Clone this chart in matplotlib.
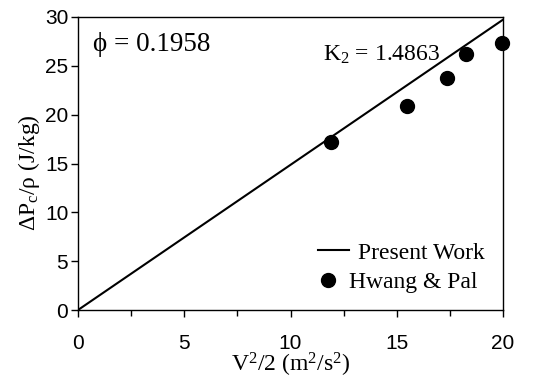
import numpy as np
import matplotlib.pyplot as plt
from matplotlib.ticker import MultipleLocator

# Hwang & Pal experimental points
hp_x = [11.9, 15.5, 17.35, 18.25, 19.95]
hp_y = [17.25, 20.9, 23.8, 26.2, 27.3]

# Present work: dP/rho = K2 * V^2/2
k2 = 1.4863
phi_val = 0.1958
line_x = np.array([0, 20])

serif = ['Liberation Serif', 'DejaVu Serif']

plt.rcParams['mathtext.fontset'] = 'custom'
plt.rcParams['mathtext.rm'] = 'Liberation Serif'
plt.rcParams['mathtext.it'] = 'Liberation Serif:italic'
plt.rcParams['mathtext.default'] = 'rm'

fig = plt.figure(figsize=(5.43, 3.81), dpi=100)
ax = fig.add_axes([78 / 543, 1 - 310 / 381, 425 / 543, 293 / 381])

line, = ax.plot(line_x, k2 * line_x, color='black', lw=1.5, label='Present Work')
pts, = ax.plot(hp_x, hp_y, 'o', color='black', ms=10, label='Hwang & Pal',
               clip_on=False)

ax.set_xlim(0, 20)
ax.set_ylim(0, 30)
ax.xaxis.set_major_locator(MultipleLocator(5))
ax.xaxis.set_minor_locator(MultipleLocator(2.5))
ax.yaxis.set_major_locator(MultipleLocator(5))
ax.tick_params(axis='both', which='both', direction='out', width=1,
               top=False, right=False)
ax.tick_params(axis='both', which='major', length=5, labelsize=15,
               labelfontfamily='Liberation Sans')
ax.tick_params(axis='x', which='minor', length=4)
ax.tick_params(axis='x', pad=12)
ax.tick_params(axis='y', pad=2)
for sp in ax.spines.values():
    sp.set_linewidth(1)

ax.set_xlabel('V$^2$/2 (m$^2$/s$^2$)', family=serif, fontsize=17, labelpad=-1)
ax.set_ylabel('\u0394P$_c$/\u03c1 (J/kg)', family=serif, fontsize=17)
ax.yaxis.set_label_coords(-0.085, 0.47)

ax.text(0.035, 0.905, '\u03d5 = %.4f' % phi_val, transform=ax.transAxes,
        family=serif, fontsize=19.5, va='center', ha='left')
ax.text(0.577, 0.87, 'K$_2$ = %.4f' % k2, transform=ax.transAxes,
        family=serif, fontsize=17, va='center', ha='left')

# two separate legend entries, as in the original figure
leg1 = ax.legend(handles=[line], loc='center right', bbox_to_anchor=(0.958, 0.195),
                 frameon=False, prop={'family': serif, 'size': 17},
                 handlelength=1.3, handletextpad=0.4, borderaxespad=0, borderpad=0)
ax.add_artist(leg1)
ax.legend(handles=[pts], loc='center right', bbox_to_anchor=(0.94, 0.095),
          frameon=False, prop={'family': serif, 'size': 17},
          handlelength=0.6, handletextpad=0.6, borderaxespad=0, borderpad=0)

fig.savefig('out.png', dpi=100)
